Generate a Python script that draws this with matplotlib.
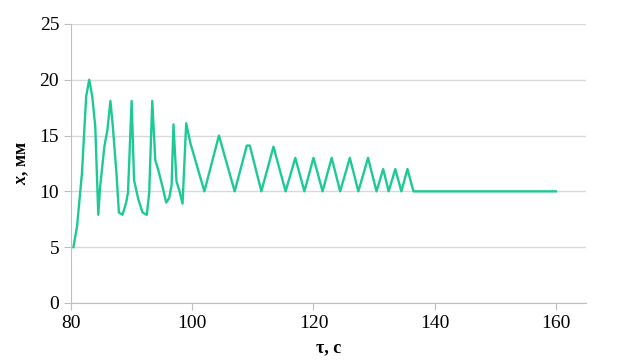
import numpy as np
import matplotlib
matplotlib.use("Agg")
import matplotlib.pyplot as plt

# time, s
tau = [80.4, 81.0, 81.8, 82.5, 83.0, 83.5, 84.0, 84.5, 84.8, 85.5, 86.0, 86.5,
       86.9, 87.5, 87.9, 88.5, 89.1, 89.4, 90.0, 90.4, 91.1, 91.8, 92.5, 92.9,
       93.4, 93.9, 94.4, 95.1, 95.7, 96.2, 96.6, 96.9, 97.4, 97.9, 98.4, 99.0,
       99.7, 102.0, 104.4, 107.0, 109.0, 109.5, 111.4, 113.4, 115.4, 117.0,
       118.5, 120.0, 121.5, 123.0, 124.4, 126.0, 127.4, 129.0, 130.4, 131.5,
       132.4, 133.5, 134.5, 135.5, 136.5, 160.0]
# displacement, mm
x_mm = [5.0, 6.9, 11.6, 18.5, 20.0, 18.5, 15.8, 7.9, 10.4, 14.0, 15.5, 18.1,
        15.8, 11.6, 8.1, 7.9, 9.0, 9.9, 18.1, 11.0, 9.3, 8.1, 7.9, 9.9,
        18.1, 12.8, 11.9, 10.4, 9.0, 9.4, 10.6, 16.0, 10.9, 10.0, 8.9, 16.1,
        14.3, 10.0, 15.0, 10.0, 14.1, 14.1, 10.0, 14.0, 10.0, 13.0,
        10.0, 13.0, 10.0, 13.0, 10.0, 13.0, 10.0, 13.0, 10.0, 12.0,
        10.0, 12.0, 10.0, 12.0, 10.0, 10.0]

xticks = [80, 100, 120, 140, 160]
yticks = [0, 5, 10, 15, 20, 25]

plt.rcParams['font.family'] = ['Liberation Serif', 'DejaVu Serif']
plt.rcParams['mathtext.fontset'] = 'custom'
plt.rcParams['mathtext.rm'] = 'Liberation Serif'
plt.rcParams['mathtext.it'] = 'Liberation Serif:italic'
plt.rcParams['mathtext.bf'] = 'Liberation Serif:italic:bold'

fig = plt.figure(figsize=(6.23, 3.62), dpi=100)
ax = fig.add_axes([0.114, 0.163, 0.827, 0.771])

ax.plot(tau, x_mm, color='#1dca96', lw=1.7, solid_joinstyle='round')

ax.set_xlim(80, 165)
ax.set_ylim(0, 25)
ax.set_xticks(xticks)
ax.set_yticks(yticks)
ax.grid(axis='y', color='#d9d9d9', lw=1.0)
ax.set_axisbelow(True)

for s in ['top', 'right']:
    ax.spines[s].set_visible(False)
for s in ['left', 'bottom']:
    ax.spines[s].set_color('#bfbfbf')
ax.tick_params(colors='#bfbfbf', labelcolor='black', labelsize=14, length=5)

ax.set_xlabel('τ, с', fontsize=13, fontweight='bold', labelpad=5)
ax.set_ylabel(r'$\mathbf{x}$, мм', fontsize=13, fontweight='bold', labelpad=6)

fig.savefig('out.png', dpi=100)
